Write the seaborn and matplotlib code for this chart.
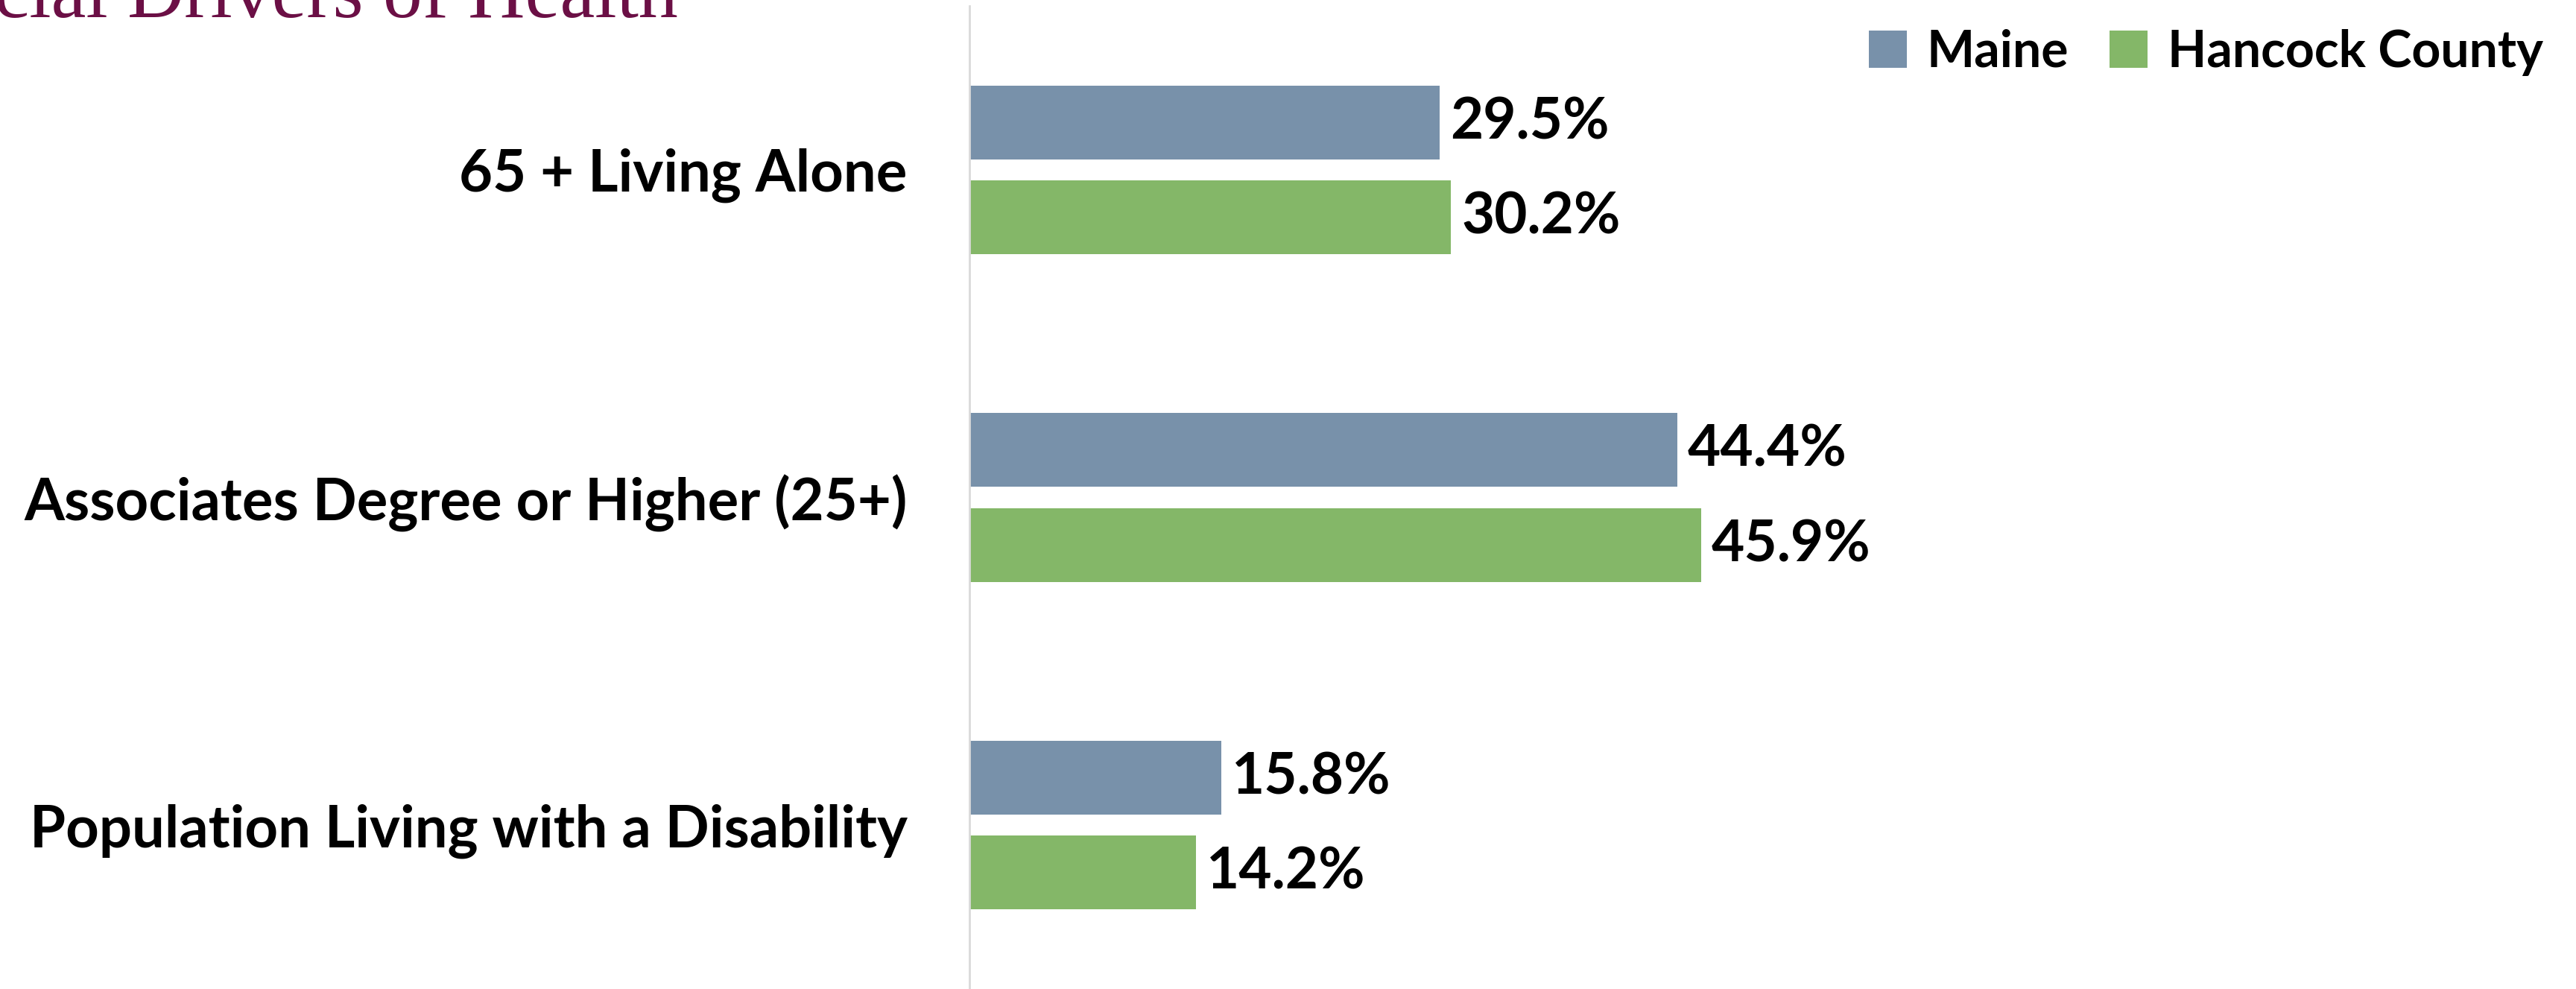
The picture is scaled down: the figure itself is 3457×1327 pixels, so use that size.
import pandas as pd
import seaborn as sns
import matplotlib.pyplot as plt

# values
categories = ['65 + Living Alone', 'Associates Degree or Higher (25+)',
              'Population Living with a Disability']
maine = [29.5, 44.4, 15.8]
hancock = [30.2, 45.9, 14.2]
regions = ['Maine', 'Hancock County']
colors = ['#7891AA', '#84B768']

df = pd.DataFrame({
    'Category': categories * 2,
    'Value': maine + hancock,
    'Region': [regions[0]] * 3 + [regions[1]] * 3,
})

sns.set_style('white')
plt.rcParams['font.family'] = ['Lato', 'DejaVu Sans']
plt.rcParams['text.color'] = 'black'
plt.rcParams['ytick.color'] = 'black'

fig = plt.figure(figsize=(34.57, 13.27), dpi=100)
ax = fig.add_axes([0.3763, 0.0, 0.619, 0.994])

sns.barplot(data=df, y='Category', x='Value', hue='Region', orient='h',
            palette=colors, saturation=1, width=0.58, gap=0.224,
            linewidth=0, ax=ax)

# value labels at the bar ends
for cont in ax.containers:
    ax.bar_label(cont, fmt='%.1f%%', padding=10, fontsize=55,
                 fontweight='bold', color='black')

ax.set_xlim(0, 100)
ax.set_ylim(2.5, -0.5)
ax.set_xlabel('')
ax.set_ylabel('')
ax.set_xticks([])
ax.tick_params(axis='y', length=0, pad=60)
for lab in ax.get_yticklabels():
    lab.set_fontsize(56)
    lab.set_fontweight('bold')
    lab.set_color('black')
for side in ['top', 'right', 'bottom']:
    ax.spines[side].set_visible(False)
ax.spines['left'].set_color('#D9D9D9')
ax.spines['left'].set_linewidth(2)

ax.legend(loc='upper right', bbox_to_anchor=(1.005, 1.017),
          bbox_transform=fig.transFigure, ncol=2, frameon=False,
          prop={'weight': 'bold', 'size': 49}, handlelength=0.75,
          handleheight=0.75, handletextpad=0.4, columnspacing=0.8)

# page title, cut off by the top edge of the image as in the source slide
fig.text(0.263, 0.983, 'Social Drivers of Health', ha='right', va='baseline',
         fontsize=76, color='#6B0F45', family='Liberation Serif')

fig.savefig('out.png', dpi=100)
